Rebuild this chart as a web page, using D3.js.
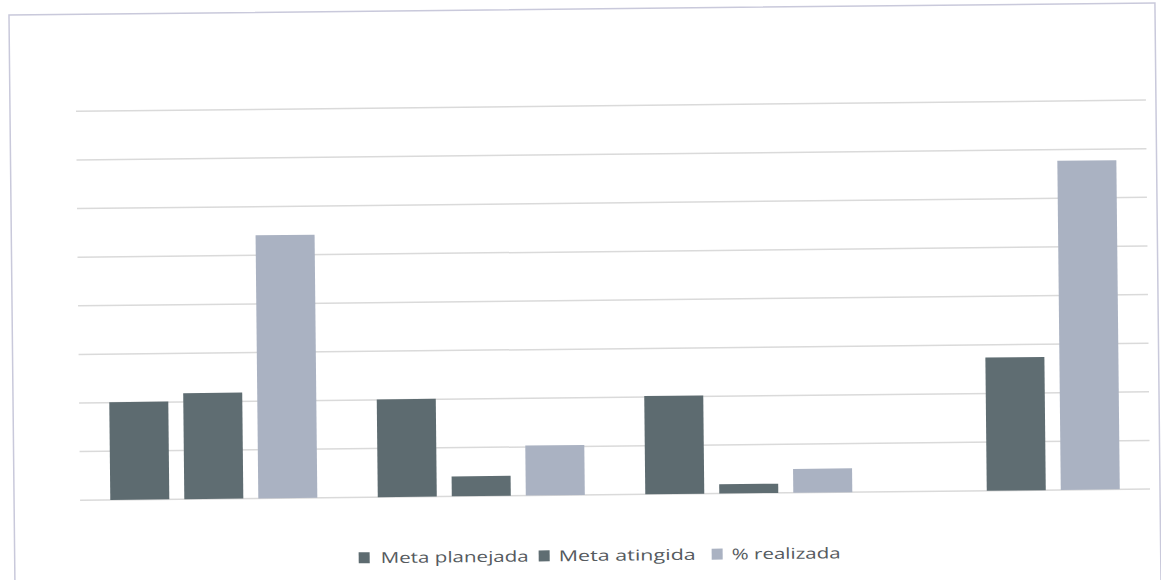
<!DOCTYPE html>
<html>
<head>
<meta charset="utf-8">
<script src="https://cdn.jsdelivr.net/npm/d3@7"></script>
<style>
  html, body { margin: 0; padding: 0; background: #ffffff; }
  svg { display: block; }
</style>
</head>
<body>
<svg id="chart" width="1161" height="580"></svg>
<script>
// ---- data (gridline step = 1 unit) ----
const categories = ["G1", "G2", "G3", "G4"];
const seriesNames = ["Meta planejada", "Meta atingida", "% realizada"];
const metaPlanejada = [2.01, 2.01, 2.02, 0];
const metaAtingida  = [2.18, 0.41, 0.19, 2.74];
const realizada     = [5.41, 1.03, 0.49, 6.77];
const yTicks = [0, 1, 2, 3, 4, 5, 6, 7, 8];

const seriesValues = [metaPlanejada, metaAtingida, realizada];
const colors = ["#5d6b70", "#5f6d72", "#aab2c2"];

const svg = d3.select("#chart");
const root = svg.append("g").attr("transform", "rotate(-0.6 580 300)");

// frame
root.append("rect")
  .attr("x", 12).attr("y", 9).attr("width", 1146).attr("height", 600)
  .attr("fill", "none").attr("stroke", "#c9c9db").attr("stroke-width", 1.5);

const plot = { left: 78, right: 1148, top: 106, bottom: 495 };

const x0 = d3.scaleBand().domain(categories)
  .range([plot.left, plot.right]).paddingInner(0.226).paddingOuter(0.113);
const x1 = d3.scaleBand().domain(seriesNames)
  .range([0, x0.bandwidth()]).paddingInner(0.2027).paddingOuter(0);
const y = d3.scaleLinear().domain([0, 8]).range([plot.bottom, plot.top]);

// gridlines
root.append("g").selectAll("line").data(yTicks).join("line")
  .attr("x1", plot.left).attr("x2", plot.right)
  .attr("y1", d => y(d)).attr("y2", d => y(d))
  .attr("stroke", "#dadada").attr("stroke-width", 1.5);

// bars
const groups = root.append("g").selectAll("g").data(categories).join("g")
  .attr("transform", d => `translate(${x0(d)},0)`);
groups.selectAll("rect")
  .data((c, i) => seriesNames.map((s, j) => ({ s, j, v: seriesValues[j][i] })))
  .join("rect")
  .filter(d => d.v > 0)
  .attr("x", d => x1(d.s))
  .attr("width", x1.bandwidth())
  .attr("y", d => y(d.v))
  .attr("height", d => y(0) - y(d.v))
  .attr("fill", d => colors[d.j]);

// legend
const legendItems = [
  { name: seriesNames[0], sx: 356, tx: 378, tw: 148 },
  { name: seriesNames[1], sx: 536, tx: 556, tw: 137 },
  { name: seriesNames[2], sx: 709, tx: 729, tw: 109 }
];
const leg = root.append("g");
legendItems.forEach((it, i) => {
  leg.append("rect").attr("x", it.sx).attr("y", 550).attr("width", 11).attr("height", 11)
    .attr("fill", colors[i]);
  leg.append("text").attr("x", it.tx).attr("y", 561)
    .attr("font-family", "'Open Sans', 'Noto Sans', sans-serif")
    .attr("font-size", 15).attr("fill", "#555a5e")
    .attr("textLength", it.tw).attr("lengthAdjust", "spacingAndGlyphs")
    .text(it.name);
});
</script>
</body>
</html>
